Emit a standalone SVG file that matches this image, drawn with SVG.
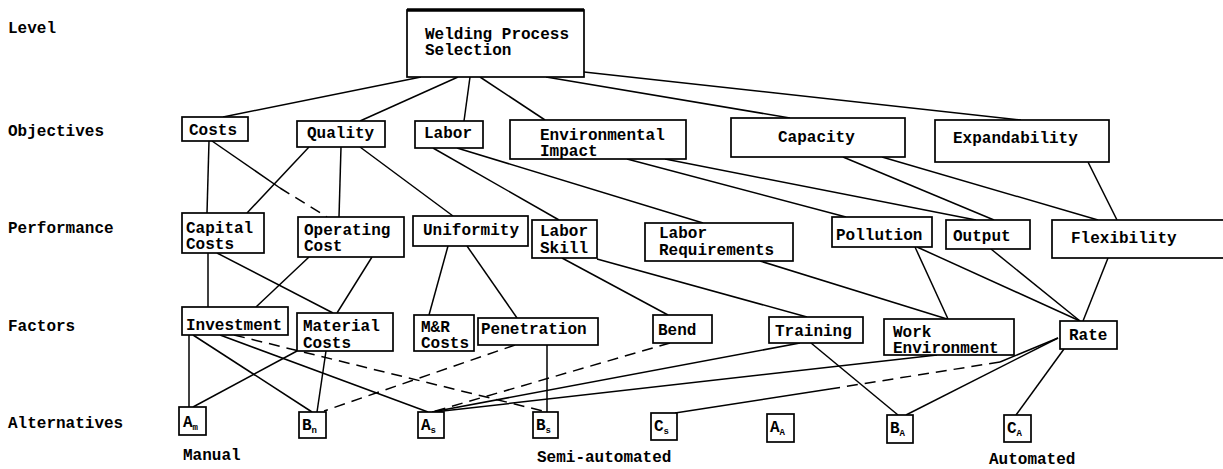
<svg xmlns="http://www.w3.org/2000/svg" width="1223" height="469" viewBox="0 0 1223 469">
<style>
.t{font-family:"Liberation Mono","Courier New",monospace;font-size:16px;font-weight:bold;fill:#000}
.s{font-size:9px}
.b{fill:#fff;stroke:#000;stroke-width:1.7}
.c{stroke:#000;stroke-width:1.5;fill:none}
.d{stroke-dasharray:11 7}
</style>
<rect width="1223" height="469" fill="#fff"/>
<g id="levels" class="t">
<text x="8" y="33">Level</text>
<text x="8" y="136">Objectives</text>
<text x="8" y="233">Performance</text>
<text x="8" y="331">Factors</text>
<text x="8" y="428">Alternatives</text>
</g>
<g id="connectors" class="c">
<line x1="421" y1="77" x2="223" y2="117"/>
<line x1="458" y1="77" x2="360" y2="121"/>
<line x1="470" y1="77" x2="464" y2="121"/>
<line x1="480" y1="77" x2="545" y2="120"/>
<line x1="546" y1="77" x2="790" y2="118"/>
<line x1="584" y1="72" x2="1021" y2="120"/>
<line x1="209" y1="141" x2="207" y2="213"/>
<line x1="212" y1="141" x2="280" y2="188"/>
<line class="d" x1="280" y1="188" x2="327" y2="217"/>
<line x1="309" y1="147" x2="247" y2="213"/>
<line x1="341" y1="147" x2="339" y2="217"/>
<line x1="360" y1="147" x2="453" y2="216"/>
<line x1="433" y1="148" x2="559" y2="220"/>
<line x1="457" y1="148" x2="703" y2="223"/>
<line x1="627" y1="159" x2="846" y2="217"/>
<line x1="665" y1="159" x2="976" y2="220"/>
<line x1="843" y1="157" x2="994" y2="220"/>
<line x1="882" y1="157" x2="1098" y2="220"/>
<line x1="1088" y1="162" x2="1117" y2="220"/>
<line x1="208" y1="253" x2="208" y2="307"/>
<line x1="217" y1="253" x2="333" y2="313"/>
<line x1="309" y1="257" x2="256" y2="307"/>
<line x1="372" y1="257" x2="337" y2="313"/>
<line x1="448" y1="246" x2="429" y2="315"/>
<line x1="467" y1="246" x2="517" y2="318"/>
<line x1="562" y1="258" x2="668" y2="315"/>
<line x1="597" y1="259" x2="807" y2="317"/>
<line x1="760" y1="261" x2="947" y2="319"/>
<line x1="915" y1="247" x2="948" y2="319"/>
<line x1="917" y1="247" x2="1080" y2="321"/>
<line x1="991" y1="249" x2="1080" y2="321"/>
<line x1="1108" y1="258" x2="1083" y2="321"/>
<line x1="189" y1="335" x2="189" y2="407"/>
<line x1="193" y1="335" x2="312" y2="412"/>
<line x1="220" y1="335" x2="428" y2="412"/>
<line x1="297" y1="351" x2="193" y2="407"/>
<line x1="326" y1="351" x2="317" y2="412"/>
<line class="d" x1="234" y1="335" x2="547" y2="412"/>
<line class="d" x1="515" y1="345" x2="324" y2="411"/>
<line x1="547" y1="345" x2="547" y2="412"/>
<line class="d" x1="670" y1="343" x2="432" y2="412"/>
<line x1="800" y1="343" x2="432" y2="412"/>
<line x1="937" y1="355" x2="434" y2="412"/>
<line x1="811" y1="343" x2="898" y2="415"/>
<line x1="1058" y1="338" x2="1000" y2="362"/>
<line class="d" x1="1000" y1="362" x2="830" y2="389"/>
<line x1="830" y1="389" x2="675" y2="413"/>
<line x1="1058" y1="338" x2="906" y2="415"/>
<line x1="1064" y1="349" x2="1016" y2="415"/>
</g>
<g id="n-top"><rect class="b" x="407" y="10" width="177" height="67"/><line x1="407" y1="10" x2="584" y2="10" stroke="#000" stroke-width="3.5"/><text class="t" x="425" y="39">Welding Process</text><text class="t" x="425" y="55">Selection</text></g>
<g id="n-costs"><rect class="b" x="182" y="117" width="66" height="24"/><text class="t" x="189" y="135">Costs</text></g>
<g id="n-quality"><rect class="b" x="297" y="121" width="88" height="26"/><text class="t" x="307" y="138">Quality</text></g>
<g id="n-labor"><rect class="b" x="415" y="121" width="68" height="27"/><text class="t" x="424" y="138">Labor</text></g>
<g id="n-env"><rect class="b" x="510" y="120" width="176" height="39"/><text class="t" x="540" y="140">Environmental</text><text class="t" x="540" y="156">Impact</text></g>
<g id="n-capacity"><rect class="b" x="731" y="118" width="174" height="39"/><text class="t" x="778" y="142">Capacity</text></g>
<g id="n-expand"><rect class="b" x="935" y="120" width="174" height="42"/><text class="t" x="953" y="143">Expandability</text></g>
<g id="n-capital"><rect class="b" x="182" y="213" width="82" height="40"/><text class="t" x="186" y="233">Capital</text><text class="t" x="186" y="249">Costs</text></g>
<g id="n-operating"><rect class="b" x="298" y="217" width="106" height="40"/><text class="t" x="304" y="235">Operating</text><text class="t" x="304" y="251">Cost</text></g>
<g id="n-uniformity"><rect class="b" x="413" y="216" width="115" height="30"/><text class="t" x="423" y="235">Uniformity</text></g>
<g id="n-laborskill"><rect class="b" x="532" y="220" width="65" height="38"/><text class="t" x="540" y="236">Labor</text><text class="t" x="540" y="253">Skill</text></g>
<g id="n-laborreq"><rect class="b" x="645" y="223" width="148" height="38"/><text class="t" x="659" y="238">Labor</text><text class="t" x="659" y="255">Requirements</text></g>
<g id="n-pollution"><rect class="b" x="832" y="217" width="100" height="30"/><text class="t" x="836" y="240">Pollution</text></g>
<g id="n-output"><rect class="b" x="946" y="220" width="84" height="29"/><text class="t" x="953" y="241">Output</text></g>
<g id="n-flex"><rect class="b" x="1052" y="220" width="180" height="38"/><text class="t" x="1071" y="243">Flexibility</text></g>
<g id="n-invest"><rect class="b" x="182" y="307" width="106" height="28"/><text class="t" x="186" y="330">Investment</text></g>
<g id="n-material"><rect class="b" x="297" y="313" width="96" height="38"/><text class="t" x="303" y="331">Material</text><text class="t" x="303" y="348">Costs</text></g>
<g id="n-mr"><rect class="b" x="414" y="315" width="60" height="36"/><text class="t" x="421" y="332">M&amp;R</text><text class="t" x="421" y="348">Costs</text></g>
<g id="n-penetration"><rect class="b" x="478" y="318" width="120" height="27"/><text class="t" x="481" y="334">Penetration</text></g>
<g id="n-bend"><rect class="b" x="653" y="315" width="59" height="28"/><text class="t" x="658" y="335">Bend</text></g>
<g id="n-training"><rect class="b" x="769" y="317" width="94" height="26"/><text class="t" x="775" y="336">Training</text></g>
<g id="n-workenv"><rect class="b" x="884" y="319" width="130" height="36"/><text class="t" x="893" y="337">Work</text><text class="t" x="893" y="353">Environment</text></g>
<g id="n-rate"><rect class="b" x="1060" y="321" width="57" height="28"/><text class="t" x="1069" y="340">Rate</text></g>
<g id="n-am"><rect class="b" x="179" y="407" width="27" height="28"/><text class="t" x="183" y="427">A<tspan class="s" dy="3">m</tspan></text></g>
<g id="n-bm"><rect class="b" x="299" y="412" width="27" height="26"/><text class="t" x="302" y="430">B<tspan class="s" dy="3">n</tspan></text></g>
<g id="n-as"><rect class="b" x="418" y="412" width="26" height="26"/><text class="t" x="421" y="430">A<tspan class="s" dy="3">s</tspan></text></g>
<g id="n-bs"><rect class="b" x="533" y="412" width="25" height="26"/><text class="t" x="536" y="430">B<tspan class="s" dy="3">s</tspan></text></g>
<g id="n-cs"><rect class="b" x="651" y="413" width="26" height="27"/><text class="t" x="654" y="431">C<tspan class="s" dy="3">s</tspan></text></g>
<g id="n-aa"><rect class="b" x="767" y="414" width="27" height="28"/><text class="t" x="770" y="432">A<tspan class="s" dy="3">A</tspan></text></g>
<g id="n-ba"><rect class="b" x="887" y="415" width="26" height="28"/><text class="t" x="890" y="433">B<tspan class="s" dy="3">A</tspan></text></g>
<g id="n-ca"><rect class="b" x="1004" y="415" width="27" height="27"/><text class="t" x="1007" y="433">C<tspan class="s" dy="3">A</tspan></text></g>
<g id="group-labels" class="t">
<text x="183" y="460">Manual</text>
<text x="537" y="462">Semi-automated</text>
<text x="989" y="464">Automated</text>
</g>
</svg>
